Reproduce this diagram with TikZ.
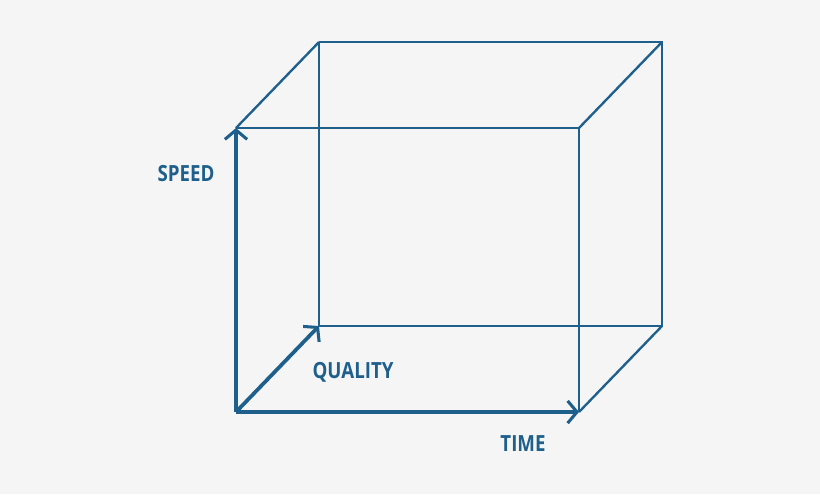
\documentclass[tikz,border=0pt]{standalone}
\usepackage{fontspec}
\setmainfont{Open Sans}
\usetikzlibrary{arrows.meta}
\definecolor{boxblue}{HTML}{1F5F8C}
\tikzset{edge/.style={draw=boxblue, line width=2pt},
  axis/.style={draw=boxblue, line width=3.2pt, -{Straight Barb[length=8pt,width=19pt,line width=2.6pt]}},
  lbl/.style={text=boxblue, xscale=0.84, font=\bfseries\fontsize{19}{22}\selectfont}}
\begin{document}
\begin{tikzpicture}[x=0.03cm, y=-0.03cm]
\fill[color={rgb,255:red,245;green,245;blue,245}] (0,0) rectangle (820,494);
\useasboundingbox (0,0) rectangle (820,494);
% corners
\coordinate (o) at (236,412);
\coordinate (ftl) at (236,128);
\coordinate (ftr) at (579,128);
\coordinate (fbr) at (579,412);
\coordinate (btl) at (319,42);
\coordinate (btr) at (662,42);
\coordinate (bbr) at (662,326);
\coordinate (bbl) at (319,326);
% thin edges
\draw[edge] (ftl) -- (ftr) -- (fbr);
\draw[edge] (btl) -- (btr) -- (bbr) -- (bbl) -- (btl);
\draw[edge] (ftl) -- (btl);
\draw[edge] (ftr) -- (btr);
\draw[edge] (fbr) -- (bbr);
% axes
\draw[axis] (o) -- (ftl);
\draw[axis] (o) -- (fbr);
\draw[axis] (o) -- (bbl);
% labels
\node[lbl] (speed) at (186,174) {SPEED};
\node[lbl] (quality) at (353,372) {QUALITY};
\node[lbl] (time) at (523,444) {TIME};
\end{tikzpicture}
\end{document}
